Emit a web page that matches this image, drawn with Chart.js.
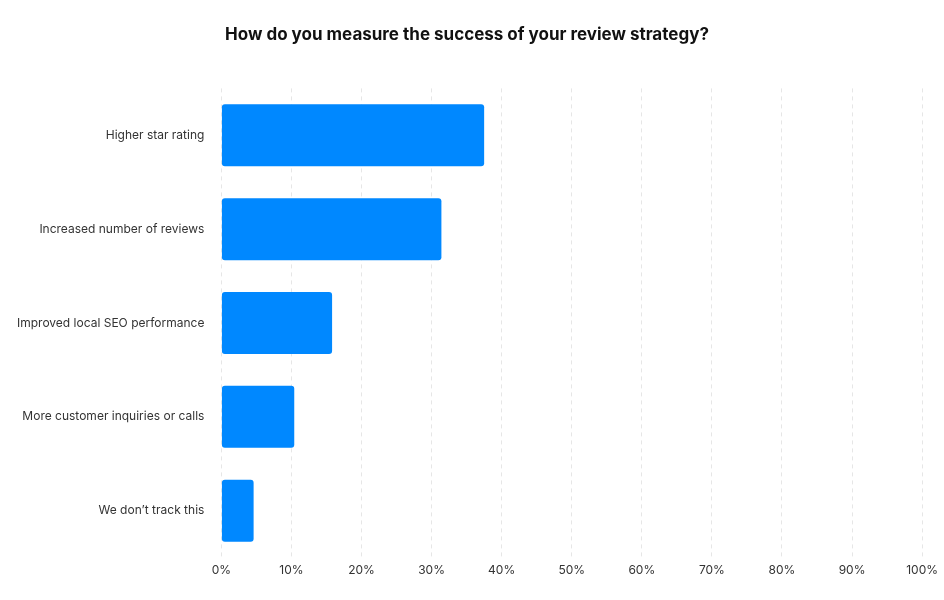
<!DOCTYPE html>
<html><head><meta charset="utf-8">
<script src="https://cdn.jsdelivr.net/npm/chart.js@4/dist/chart.umd.min.js"></script>
<style>html,body{margin:0;background:#fff}#w{width:944px;height:600px}</style>
</head><body><div id="w"><canvas id="c"></canvas></div>
<script>
const categories = ["Higher star rating","Increased number of reviews","Improved local SEO performance","More customer inquiries or calls","We don’t track this"];
const values = [37.5, 31.4, 15.8, 10.4, 4.6];
const title = "How do you measure the success of your review strategy?";
new Chart(document.getElementById('c'), {
  type: 'bar',
  data: { labels: categories, datasets: [{ data: values, backgroundColor: '#0088ff', borderRadius: 3, borderSkipped: false, barPercentage: 0.66, categoryPercentage: 1 }] },
  options: {
    indexAxis: 'y', responsive: true, maintainAspectRatio: false, animation: false,
    layout: { padding: { left: 8, right: 18, top: 25, bottom: 16 } },
    plugins: { legend: { display: false }, tooltip: { enabled: false },
      title: { display: true, text: title, color: '#111', font: { family: 'Inter', size: 17, weight: 'bold' }, padding: { top: 0, bottom: 43 } } },
    scales: {
      x: { min: 0, max: 100, ticks: { stepSize: 10, callback: v => v + '%', color: '#333', font: { family: 'Inter', size: 12 }, padding: 6 },
           grid: { color: '#e6e6e6', drawTicks: false }, border: { display: false, dash: [4, 4] } },
      y: { ticks: { color: '#333', font: { family: 'Inter', size: 12 }, padding: 9 },
           grid: { display: false }, border: { display: false } }
    }
  }
});
</script></body></html>
